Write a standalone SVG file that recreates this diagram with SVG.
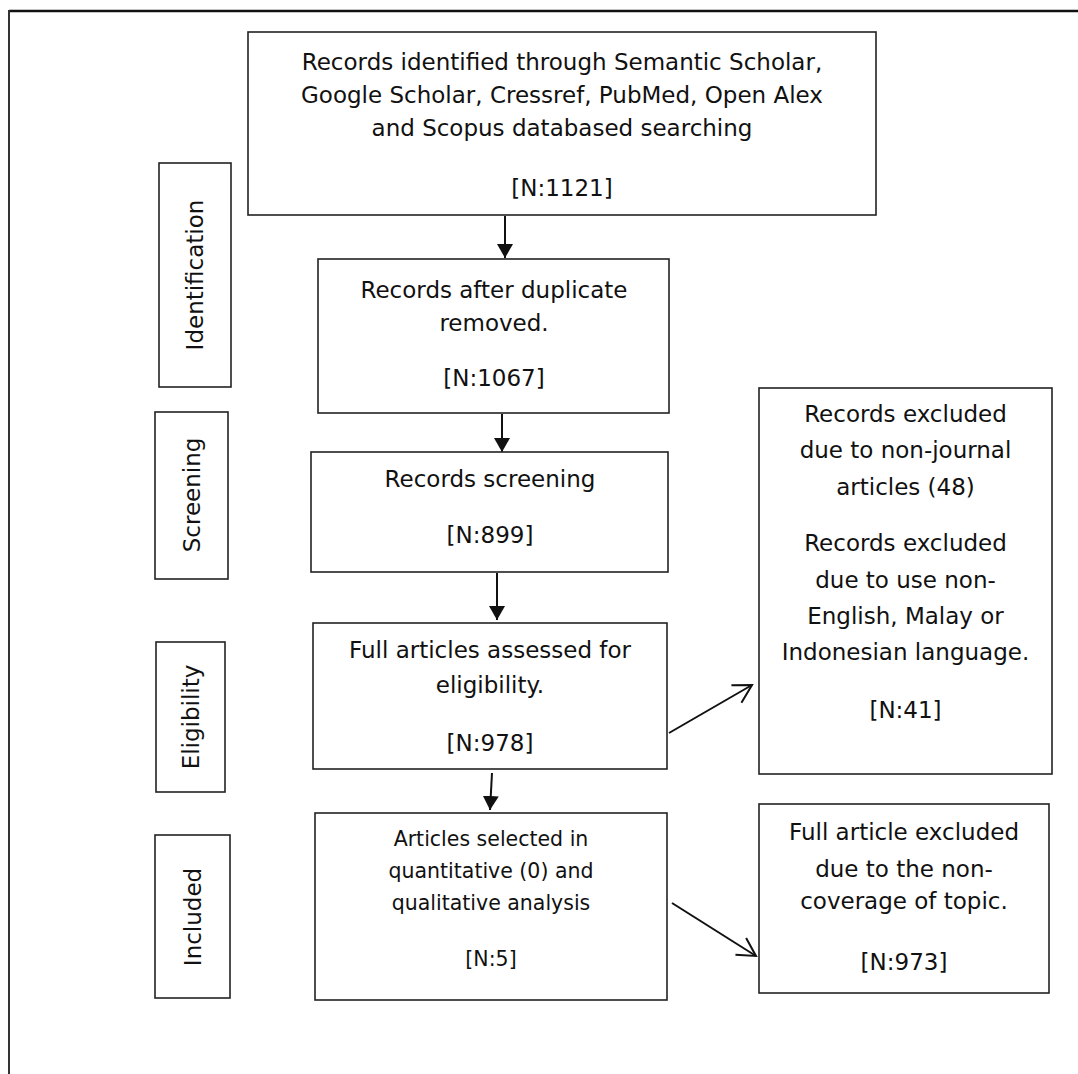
<svg xmlns="http://www.w3.org/2000/svg" width="1078" height="1074" viewBox="0 0 1078 1074">
<defs>
<style>
.box{fill:#fff;stroke:#222;stroke-width:1.6}
.t{font-family:"DejaVu Sans","Liberation Sans",sans-serif;font-size:23px;fill:#111;text-anchor:middle}
.s{font-size:20.5px}
.c{stroke:#111;stroke-width:2;fill:none}
</style>
<marker id="fa" markerUnits="userSpaceOnUse" markerWidth="16" markerHeight="16" refX="14" refY="8" orient="auto">
<path d="M0,0 L14,8 L0,16 Z" fill="#111"/>
</marker>
<marker id="oa" markerUnits="userSpaceOnUse" markerWidth="22" markerHeight="24" refX="19" refY="12" orient="auto">
<path d="M1,2 L19,12 L1,22" fill="none" stroke="#111" stroke-width="2"/>
</marker>
</defs>
<rect width="1078" height="1074" fill="#fff"/>
<g id="frame">
<line x1="9" y1="11" x2="1078" y2="11" stroke="#111" stroke-width="2.5"/>
<line x1="9" y1="10" x2="9" y2="1074" stroke="#333" stroke-width="2"/>
</g>
<g id="connectors">
<line class="c" x1="505" y1="216" x2="505" y2="258" marker-end="url(#fa)"/>
<line class="c" x1="502" y1="414" x2="502" y2="452" marker-end="url(#fa)"/>
<line class="c" x1="497" y1="573" x2="497" y2="620" marker-end="url(#fa)"/>
<line class="c" x1="492" y1="773" x2="490" y2="810" marker-end="url(#fa)"/>
<line class="c" x1="669" y1="733" x2="752" y2="685" marker-end="url(#oa)"/>
<line class="c" x1="672" y1="903" x2="756" y2="956" marker-end="url(#oa)"/>
</g>
<g id="stage-identification">
<rect class="box" x="159" y="163" width="72" height="224"/>
<text class="t" transform="translate(203,275) rotate(-90)">Identification</text>
</g>
<g id="stage-screening">
<rect class="box" x="155" y="412" width="73" height="167"/>
<text class="t" transform="translate(200,495) rotate(-90)">Screening</text>
</g>
<g id="stage-eligibility">
<rect class="box" x="156" y="642" width="69" height="150"/>
<text class="t" transform="translate(199,717) rotate(-90)">Eligibility</text>
</g>
<g id="stage-included">
<rect class="box" x="155" y="835" width="75" height="163"/>
<text class="t" transform="translate(201,917) rotate(-90)">Included</text>
</g>
<g id="records-identified">
<rect class="box" x="248" y="32" width="628" height="183"/>
<text class="t" x="562" y="70">Records identified through Semantic Scholar,</text>
<text class="t" x="562" y="103">Google Scholar, Cressref, PubMed, Open Alex</text>
<text class="t" x="562" y="136">and Scopus databased searching</text>
<text class="t" x="562" y="196">[N:1121]</text>
</g>
<g id="records-after-duplicate">
<rect class="box" x="318" y="259" width="351" height="154"/>
<text class="t" x="494" y="298">Records after duplicate</text>
<text class="t" x="494" y="331">removed.</text>
<text class="t" x="494" y="386">[N:1067]</text>
</g>
<g id="records-screening">
<rect class="box" x="311" y="452" width="357" height="120"/>
<text class="t" x="490" y="487">Records screening</text>
<text class="t" x="490" y="543">[N:899]</text>
</g>
<g id="full-articles-assessed">
<rect class="box" x="313" y="623" width="354" height="146"/>
<text class="t" x="490" y="658">Full articles assessed for</text>
<text class="t" x="490" y="693">eligibility.</text>
<text class="t" x="490" y="751">[N:978]</text>
</g>
<g id="articles-selected">
<rect class="box" x="315" y="813" width="352" height="187"/>
<text class="t s" x="491" y="846">Articles selected in</text>
<text class="t s" x="491" y="878">quantitative (0) and</text>
<text class="t s" x="491" y="910">qualitative analysis</text>
<text class="t s" x="491" y="966">[N:5]</text>
</g>
<g id="records-excluded">
<rect class="box" x="759" y="388" width="293" height="386"/>
<text class="t" x="905.5" y="422">Records excluded</text>
<text class="t" x="905.5" y="458">due to non-journal</text>
<text class="t" x="905.5" y="495">articles (48)</text>
<text class="t" x="905.5" y="551">Records excluded</text>
<text class="t" x="905.5" y="588">due to use non-</text>
<text class="t" x="905.5" y="624">English, Malay or</text>
<text class="t" x="905.5" y="660">Indonesian language.</text>
<text class="t" x="905.5" y="718">[N:41]</text>
</g>
<g id="full-article-excluded">
<rect class="box" x="759" y="804" width="290" height="189"/>
<text class="t" x="904" y="840">Full article excluded</text>
<text class="t" x="904" y="877">due to the non-</text>
<text class="t" x="904" y="909">coverage of topic.</text>
<text class="t" x="904" y="970">[N:973]</text>
</g>
</svg>
